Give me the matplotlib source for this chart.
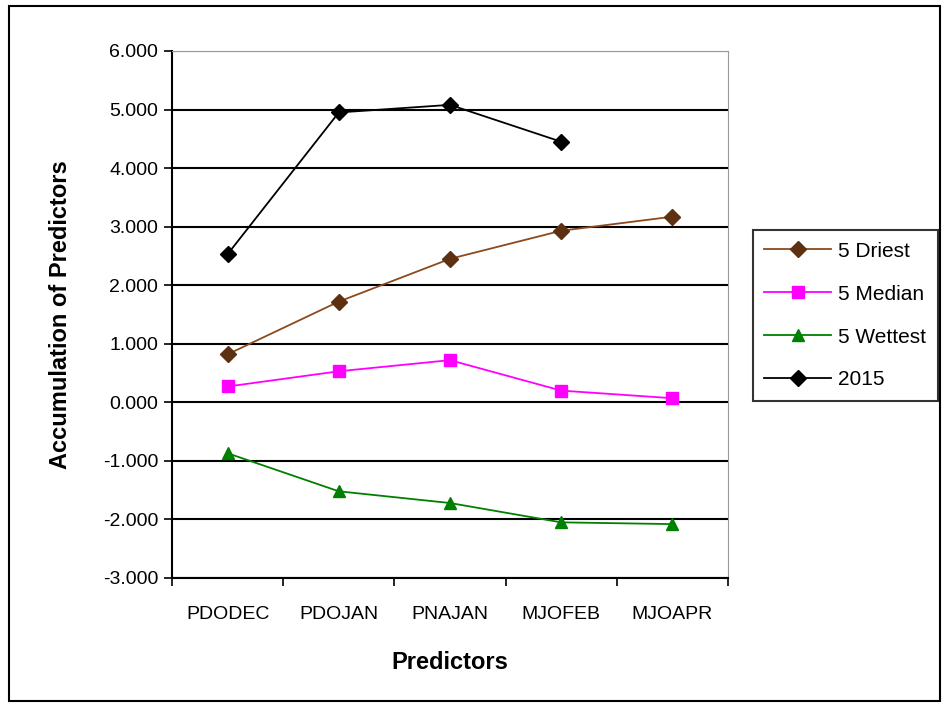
import numpy as np
import matplotlib.pyplot as plt
from matplotlib.patches import Rectangle

plt.rcParams['font.family'] = ['Liberation Sans', 'DejaVu Sans']

predictors = ["PDODEC", "PDOJAN", "PNAJAN", "MJOFEB", "MJOAPR"]
driest = [0.82, 1.72, 2.45, 2.93, 3.17]
median = [0.27, 0.53, 0.72, 0.20, 0.07]
wettest = [-0.87, -1.52, -1.72, -2.05, -2.08]
y2015 = [2.53, 4.95, 5.08, 4.45, np.nan]

fig = plt.figure(figsize=(9.52, 7.07), dpi=100)
ax = fig.add_axes([0.1807, 0.1825, 0.584, 0.7454])

x = np.arange(len(predictors))
ax.plot(x, driest, color="#8B4A1C", marker="D", markersize=8,
        markerfacecolor="#5C3010", markeredgecolor="#5C3010", lw=1.3, label="5 Driest")
ax.plot(x, median, color="#FF00FF", marker="s", markersize=9, lw=1.3, label="5 Median")
ax.plot(x, wettest, color="#008000", marker="^", markersize=9, lw=1.3, label="5 Wettest")
ax.plot(x, y2015, color="black", marker="D", markersize=8, lw=1.3, label="2015")

ax.set_xlim(-0.5, 4.5)
ax.set_ylim(-3, 6)
ax.set_yticks(np.arange(-3, 7, 1))
ax.set_yticklabels(["%.3f" % v for v in np.arange(-3, 7, 1)], fontsize=14)
ax.set_xticks(x)
ax.set_xticklabels(predictors, fontsize=14)
ax.set_xticks(np.arange(-0.5, 5, 1), minor=True)
ax.tick_params(axis="x", which="major", length=0, pad=20)
ax.tick_params(axis="x", which="minor", length=6, width=1.2, direction="out")
ax.tick_params(axis="y", length=6, width=1.2, direction="out", pad=4)
ax.grid(axis="y", color="black", lw=1.5)
ax.set_axisbelow(True)

ax.spines["top"].set_color("#999999")
ax.spines["right"].set_color("#999999")
ax.spines["left"].set_linewidth(1.5)
ax.spines["bottom"].set_linewidth(1.5)

ax.set_xlabel("Predictors", fontsize=17, fontweight="bold", labelpad=20)
ax.set_ylabel("Accumulation of Predictors", fontsize=17, fontweight="bold", labelpad=22)

leg = ax.legend(loc="upper left", bbox_to_anchor=(1.045, 0.66), fontsize=15,
                frameon=True, fancybox=False, borderpad=0.55, labelspacing=1.15,
                handlelength=3.2, handletextpad=0.35, borderaxespad=0)
leg.get_frame().set_edgecolor("black")
leg.get_frame().set_linewidth(1.5)

fig.patches.append(Rectangle((0.009, 0.009), 0.978, 0.982, transform=fig.transFigure,
                             fill=False, edgecolor="black", lw=1.5))

fig.savefig("out.png", dpi=100)
